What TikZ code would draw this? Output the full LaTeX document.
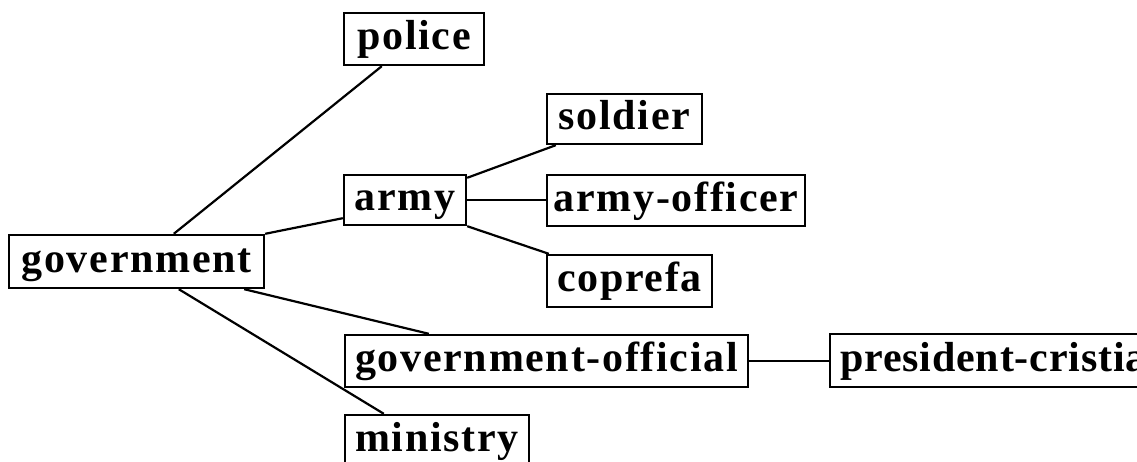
\documentclass[tikz,border=0pt]{standalone}
\usepackage{fontspec}
\setmainfont{Liberation Serif}[LetterSpace=4]
\begin{document}
\begin{tikzpicture}[x=1pt,y=1pt,
  box/.style={draw,line width=2.4pt,inner sep=0pt,
    text height=32pt,text depth=10pt,
    font=\fontsize{42}{44}\selectfont\bfseries},
  link/.style={line width=2.2pt}]
\useasboundingbox (0,0) rectangle (1137,462);
\clip (0,0) rectangle (1137,462);

% concept boxes
\node[box,minimum width=140pt,minimum height=52pt] (police) at (414,423) {police};
\node[box,minimum width=255pt,minimum height=53pt] (government) at (136.5,200.5) {government};
\node[box,minimum width=122pt,minimum height=50pt] (army) at (405,262) {army};
\node[box,minimum width=155pt,minimum height=50pt] (soldier) at (624.5,343) {soldier};
\node[box,minimum width=258pt,minimum height=51pt] (armyofficer) at (676,261.5) {army-officer};
\node[box,minimum width=165pt,minimum height=52pt] (coprefa) at (629.5,181) {coprefa};
\node[box,minimum width=403pt,minimum height=52pt] (govofficial) at (546.5,101) {government-official};
\node[box,minimum width=184pt,minimum height=52pt] (ministry) at (437,21) {ministry};
\node[box,minimum height=53pt,inner xsep=10pt,anchor=west] (president) at (829,101.5)
  {\addfontfeatures{LetterSpace=2}president-cristia};

% links
\draw[link] ([xshift=166pt]government.north west) -- ([xshift=39pt]police.south west);
\draw[link] (government.north east) -- ([yshift=8pt]army.south west);
\draw[link] ([xshift=-21pt]government.south east) -- ([xshift=85pt]govofficial.north west);
\draw[link] ([xshift=171pt]government.south west) -- ([xshift=40pt]ministry.north west);
\draw[link] ([yshift=-4pt]army.north east) -- ([xshift=10pt]soldier.south west);
\draw[link] (army.east) -- (army.east -| armyofficer.west);
\draw[link] (army.south east) -- ([xshift=3pt]coprefa.north west);
\draw[link] (govofficial.east) -- (govofficial.east -| president.west);
\end{tikzpicture}
\end{document}
